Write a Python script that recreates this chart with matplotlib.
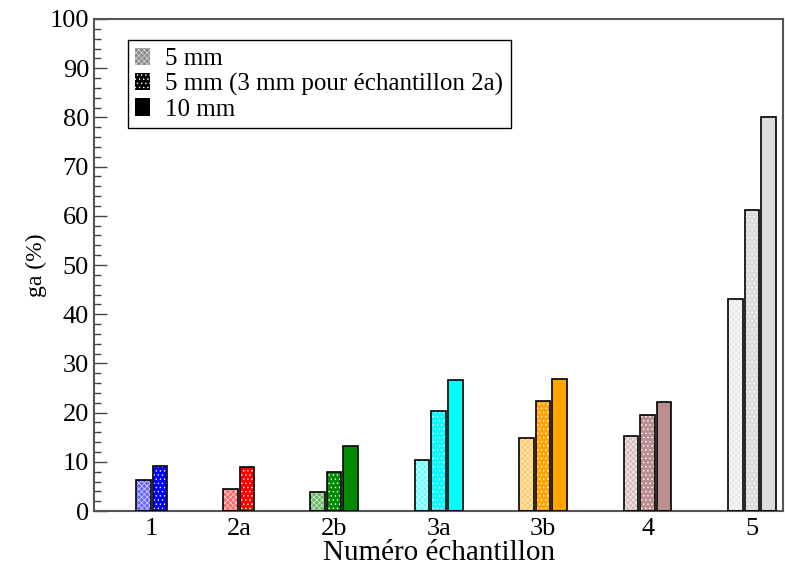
import numpy as np
import matplotlib
matplotlib.use("Agg")
import matplotlib.pyplot as plt
from matplotlib.patches import Patch
from matplotlib.colors import to_rgb

plt.rcParams['font.family'] = ['Liberation Serif', 'DejaVu Serif']
plt.rcParams['hatch.linewidth'] = 0.5

# sample labels and their x positions
groups = ['1', '2a', '2b', '3a', '3b', '4', '5']
centers = [1.0, 2.0, 3.0, 4.2, 5.4, 6.6, 7.8]
colors = ['#0000ff', '#ff0000', '#008b00', '#00ffff', '#ffa500', '#bc8f8f', '#dcdcdc']

# ga (%) values
ga_5mm = [6.3, 4.5, 3.9, 10.4, 14.8, 15.2, 43.0]
ga_5mm_b = [9.1, 8.9, 7.9, 20.3, 22.4, 19.5, 61.2]
ga_10mm = [np.nan, np.nan, 13.2, 26.6, 26.8, 22.2, 80.0]

series_labels = ['5 mm', '5 mm (3 mm pour échantillon 2a)', '10 mm']


def lighten(c, f):
    r, g, b = to_rgb(c)
    return (r + (1 - r) * f, g + (1 - g) * f, b + (1 - b) * f)


fig = plt.figure(figsize=(7.85, 5.72), dpi=100)
ax = fig.add_axes([0.1197, 0.1066, 0.8783, 0.8602])

step = 0.19
width = 0.168
offsets = [-step, 0.0, step]
all_series = [ga_5mm, ga_5mm_b, ga_10mm]

tick_pos = []
for i, xc in enumerate(centers):
    used = []
    for k, vals in enumerate(all_series):
        v = vals[i]
        if np.isnan(v):
            continue
        x = xc + offsets[k]
        used.append(x)
        if k == 0:
            face, hatch = lighten(colors[i], 0.4), 'xxxxxx'
            hcol = lighten(colors[i], 0.85)
        elif k == 1:
            face, hatch = colors[i], '....'
            hcol = 'white'
        else:
            face, hatch = colors[i], None
            hcol = 'white'
        ax.bar(x, v, width, color=face, hatch=hatch, edgecolor=hcol, linewidth=0, zorder=2)
        ax.bar(x, v, width, facecolor='none', edgecolor='black', linewidth=1.2, zorder=3)
    tick_pos.append(np.mean(used))

ax.set_xlim(0.241, 8.16)
ax.set_ylim(0, 100)
ax.set_xticks(tick_pos)
ax.set_xticklabels(groups, fontsize=19)
ax.tick_params(axis='x', length=0, pad=5)
ax.set_yticks(np.arange(0, 101, 10))
ax.set_yticks(np.arange(0, 101, 2), minor=True)
ax.tick_params(axis='y', which='major', direction='in', length=9, width=1, labelsize=19, color='#444')
ax.tick_params(axis='y', which='minor', direction='in', length=5, width=1, color='#444')
for s in ax.spines.values():
    s.set_color('#555555')
    s.set_linewidth(1.5)

ax.set_xlabel('Numéro échantillon', fontsize=21)
ax.xaxis.set_label_coords(0.5, -0.058)
ax.set_ylabel('ga (%)', fontsize=17, labelpad=2)

handles = [
    Patch(facecolor='#8a8a8a', edgecolor='#d8d8d8', hatch='xxxxxx', linewidth=0),
    Patch(facecolor='black', edgecolor='white', hatch='....', linewidth=0),
    Patch(facecolor='black', edgecolor='black', linewidth=0),
]
leg = ax.legend(handles, series_labels, loc='upper left', bbox_to_anchor=(0.049, 0.957),
                borderaxespad=0, fancybox=False, edgecolor='black', framealpha=1,
                fontsize=18, handlelength=0.6, handleheight=0.7, handletextpad=0.6,
                labelspacing=0.1, borderpad=0.3)
leg.get_frame().set_linewidth(1.0)

fig.savefig('out.png', dpi=100)
